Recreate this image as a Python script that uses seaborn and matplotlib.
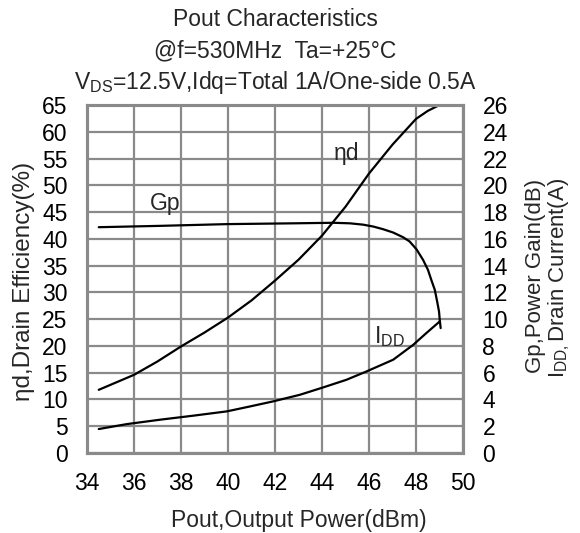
import matplotlib
matplotlib.use("Agg")
import matplotlib.pyplot as plt
import seaborn as sns
import pandas as pd

# ---- data ----
eta_pout = [34.5, 36.0, 37.0, 38.0, 39.0, 40.0, 41.0, 42.0, 43.0, 44.0,
            45.0, 46.0, 47.0, 48.0, 48.5, 49.0]
eta_vals = [11.8, 14.6, 17.1, 19.9, 22.5, 25.3, 28.5, 32.2, 36.1, 40.6,
            46.0, 52.2, 57.6, 62.4, 63.9, 65.0]

gp_pout = [34.50, 37.10, 39.95, 42.80, 44.48, 45.19, 45.75, 46.18, 46.60, 47.03,
           47.45, 47.73, 48.02, 48.30, 48.51, 48.65, 48.80, 48.90, 48.98, 49.01, 49.05]
gp_vals = [16.87, 16.97, 17.10, 17.16, 17.20, 17.16, 17.06, 16.92, 16.72, 16.47,
           16.12, 15.80, 15.22, 14.43, 13.68, 12.94, 12.19, 11.32, 10.57, 9.95, 9.33]

idd_pout = [34.50, 35.70, 37.12, 38.53, 39.95, 40.94, 41.93, 43.06, 44.05, 45.04,
            45.89, 47.03, 47.88, 48.44, 49.01]
idd_vals = [1.79, 2.16, 2.49, 2.79, 3.11, 3.48, 3.86, 4.35, 4.90, 5.47,
            6.09, 6.97, 8.08, 8.96, 9.83]

x_ticks = [34, 36, 38, 40, 42, 44, 46, 48, 50]
left_ticks = [0, 5, 10, 15, 20, 25, 30, 35, 40, 45, 50, 55, 60, 65]
right_ticks = [0, 2, 4, 6, 8, 10, 12, 14, 16, 18, 20, 22, 24, 26]

title_lines = ["Pout Characteristics",
               "@f=530MHz  Ta=+25\u00b0C",
               r"V$_{\mathrm{DS}}$=12.5V,Idq=Total 1A/One-side 0.5A"]

sns.set_theme(style="white")
plt.rcParams['font.family'] = ['Liberation Sans', 'DejaVu Sans']
plt.rcParams['mathtext.fontset'] = 'custom'
plt.rcParams['mathtext.rm'] = 'Liberation Sans'
plt.rcParams['mathtext.it'] = 'Liberation Sans'
plt.rcParams['mathtext.default'] = 'rm'

W, H = 580, 533
fig = plt.figure(figsize=(5.8, 5.33), dpi=100)
ax = fig.add_axes([87/W, 1-453/H, 376/W, 348/H])
ax2 = ax.twinx()

grid_col = "#8a8a8a"
FS = 16.5
eta_df = pd.DataFrame({"Pout": eta_pout, "val": eta_vals})
gp_df = pd.DataFrame({"Pout": gp_pout, "val": gp_vals})
idd_df = pd.DataFrame({"Pout": idd_pout, "val": idd_vals})

sns.lineplot(data=eta_df, x="Pout", y="val", ax=ax, color="black", lw=1.6, sort=False)
sns.lineplot(data=gp_df, x="Pout", y="val", ax=ax2, color="black", lw=1.6, sort=False)
sns.lineplot(data=idd_df, x="Pout", y="val", ax=ax2, color="black", lw=1.6, sort=False)

ax.set_xlim(34, 50)
ax.set_ylim(0, 65)
ax2.set_ylim(0, 26)
ax.set_xticks(x_ticks)
ax.set_yticks(left_ticks)
ax2.set_yticks(right_ticks)
ax.grid(True, color=grid_col, lw=1.6)
ax.set_axisbelow(True)
for a in (ax, ax2):
    for s in a.spines.values():
        s.set_color(grid_col)
        s.set_linewidth(2.2)
    a.tick_params(length=0, labelsize=FS, colors="black", pad=14)

ax.set_xlabel("")
ax.set_ylabel("")
ax2.set_ylabel("")
fig.text(299/W, 1-520/H, "Pout,Output Power(dBm)", ha="center", va="center", fontsize=FS)
fig.text(24/W, 1-281/H, "\u03b7d,Drain Efficiency(%)", rotation=90,
         ha="center", va="center", fontsize=17.5)
fig.text(535/W, 1-276/H, "Gp,Power Gain(dB)", rotation=90, ha="center", va="center", fontsize=16)
fig.text(559/W, 1-278/H, r"I$_{\mathrm{DD},}$Drain Current(A)", rotation=90,
         ha="center", va="center", fontsize=16)

ax.text(45.04, 56.0, "\u03b7d", fontsize=FS, ha="center", va="center")
ax.text(37.33, 46.6, "Gp", fontsize=FS, ha="center", va="center")
ax.text(46.85, 21.8, r"I$_{\mathrm{DD}}$", fontsize=FS, ha="center", va="center")

for t, yc in zip(title_lines, [19, 51, 83]):
    fig.text(275/W, 1-yc/H, t, ha="center", va="center", fontsize=FS)

fig.savefig("out.png", dpi=100)
